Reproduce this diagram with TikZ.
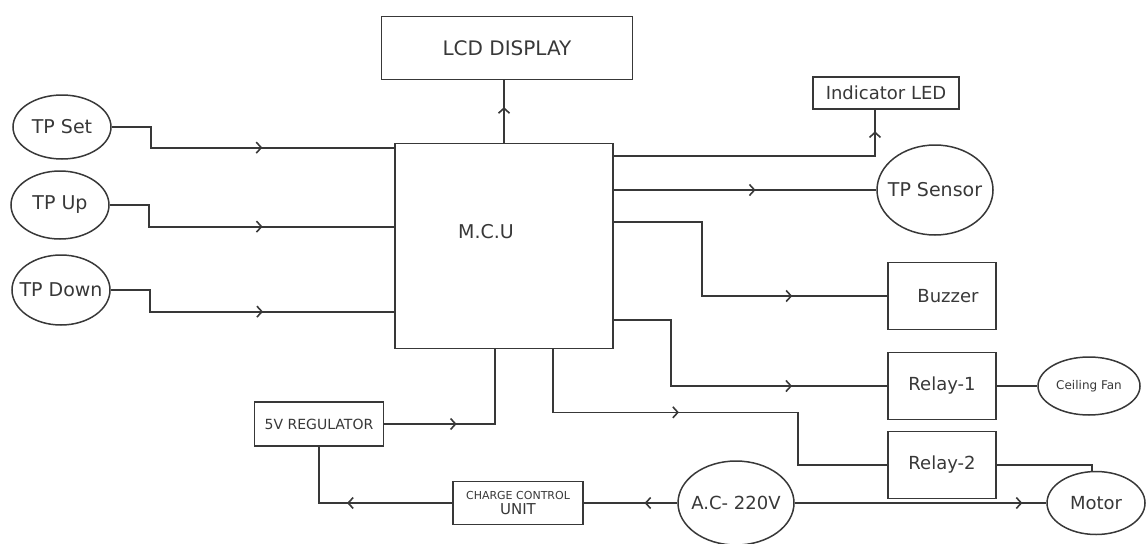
\documentclass[tikz,border=0pt]{standalone}
\usepackage{fontspec}
\setmainfont{DejaVu Sans}
\usepackage{tikz}
\usetikzlibrary{shapes.geometric,arrows.meta,positioning,calc,decorations.markings}
\definecolor{wiregray}{rgb}{0.22,0.22,0.22}
\tikzset{
  blk/.style={draw=wiregray,line width=1.7pt,rectangle,inner sep=0pt},
  ell/.style={draw=wiregray,line width=1.5pt,ellipse,inner sep=0pt},
  wire/.style={draw=wiregray,line width=1.7pt},
  midarrow/.style={postaction={decorate,decoration={markings,mark=at position #1 with {\arrow{Straight Barb[length=5pt,width=11pt,line width=1.6pt]}}}}},
  txt/.style={font=\fontsize{18}{20}\selectfont},
  bigtxt/.style={font=\fontsize{19}{22}\selectfont}
}

\begin{document}
\begin{tikzpicture}[x=1pt,y=-1pt,text=wiregray,every label/.style={text=wiregray}]
    \useasboundingbox (0,0) rectangle (1147,543);

    % LCD and MCU
    \node[blk,minimum width=251pt,minimum height=63pt,font=\fontsize{20}{24}\selectfont] (lcd) at (507,48) {LCD DISPLAY};
    \node[blk,minimum width=218pt,minimum height=205pt] (mcu) at (504,246) {};
    \node[bigtxt] (mcutxt) at (486,232) {M.C.U};

    % Inputs
    \node[ell,minimum width=98pt,minimum height=64pt,label={[bigtxt]center:TP Set}] (tpset) at (62,127) {};
    \node[ell,minimum width=98pt,minimum height=68pt,label={[bigtxt]center:TP Up}] (tpup) at (60,205) {};
    \node[ell,minimum width=98pt,minimum height=70pt,label={[bigtxt]center:TP Down}] (tpdown) at (61,290) {};

    % Outputs
    \node[blk,minimum width=146pt,minimum height=32pt,txt] (led) at (886,93) {Indicator LED};
    \node[ell,minimum width=116pt,minimum height=90pt,label={[bigtxt]center:TP Sensor}] (sensor) at (935,190) {};
    \node[blk,minimum width=108pt,minimum height=67pt,txt] (buzzer) at (942,296) {\hspace{12pt}Buzzer};
    \node[blk,minimum width=108pt,minimum height=67pt,txt] (relay1) at (942,386) {Relay-1};
    \node[blk,minimum width=108pt,minimum height=67pt,txt] (relay2) at (942,465) {Relay-2};
    \node[ell,minimum width=102pt,minimum height=58pt,label={[font=\fontsize{12}{14}\selectfont]center:Ceiling Fan}] (fan) at (1089,386) {};
    \node[ell,minimum width=98pt,minimum height=63pt,label={[txt]center:Motor}] (motor) at (1096,503) {};

    % Power
    \node[ell,minimum width=116pt,minimum height=84pt,label={[txt]center:A.C- 220V}] (ac) at (736,503) {};
    \node[blk,minimum width=130pt,minimum height=43pt,align=center] (ccu) at (518,503)
        {\fontsize{11}{12}\selectfont CHARGE CONTROL\\[3pt]\fontsize{15}{16}\selectfont UNIT};
    \node[blk,minimum width=129pt,minimum height=44pt,font=\fontsize{14}{16}\selectfont] (reg) at (319,424) {5V REGULATOR};

    % Input wires
    \draw[wire,midarrow=0.565] (tpset.east) -- ++(39,0) |- ([yshift=-5pt]mcu.north west);
    \draw[wire,midarrow=0.57] (tpup.east) -- ++(39,0) |- ([yshift=-84pt]mcu.north west);
    \draw[wire,midarrow=0.57] (tpdown.east) -- ++(39,0) |- ([yshift=-169pt]mcu.north west);

    % Output wires
    \draw[wire,midarrow=0.57] (mcu.north) -- (mcu.north |- lcd.south);
    \draw[wire,midarrow=0.93] ([yshift=-13pt]mcu.north east) -| ([xshift=-11pt]led.south);
    \draw[wire,midarrow=0.54] (sensor.west -| mcu.east) -- (sensor.west);
    \draw[wire,midarrow=0.727] ([yshift=-79pt]mcu.north east) -- ++(88,0) |- (buzzer.west);
    \draw[wire,midarrow=0.72] ([yshift=-177pt]mcu.north east) -- ++(57,0) |- (relay1.west);
    \draw[wire,midarrow=0.42] ([xshift=49pt]mcu.south) -- ++(0,63) -- ++(245,0) |- (relay2.west);
    \draw[wire] (relay1.east) -- (fan.west);
    \draw[wire] (relay2.east) -| ([xshift=-4pt]motor.north);

    % Power wires
    \draw[wire,midarrow=0.39] (reg.east) -| ([xshift=-9pt]mcu.south);
    \draw[wire,midarrow=0.35] (ac.west) -- (ccu.east);
    \draw[wire,midarrow=0.555] (ccu.west) -| (reg.south);
    \draw[wire,midarrow=0.905] (ac.east) -- (motor.west);
\end{tikzpicture}
\end{document}
